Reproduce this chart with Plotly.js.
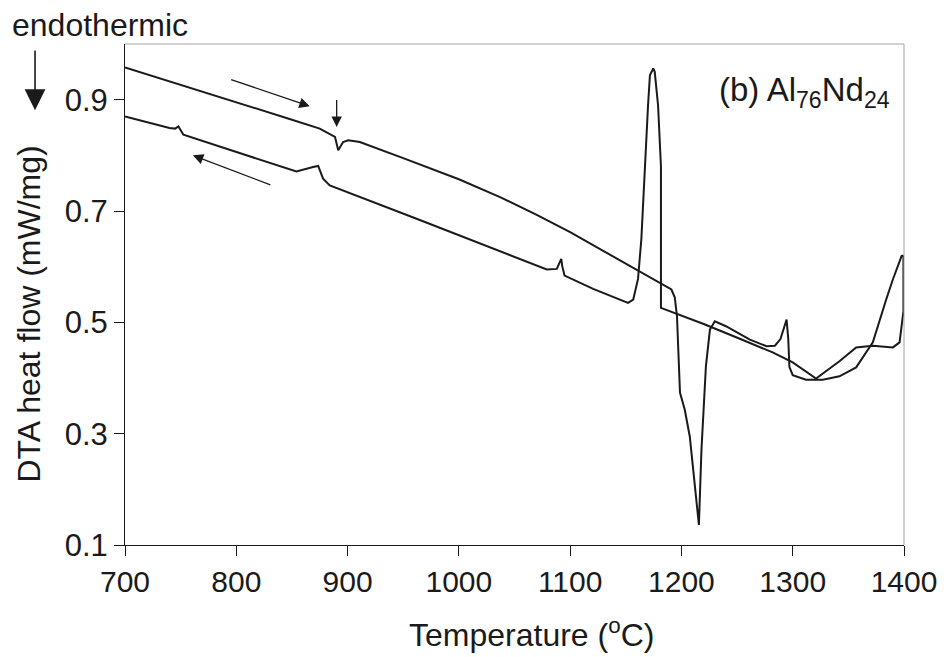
<!DOCTYPE html>
<html>
<head>
<meta charset="utf-8">
<script src="https://cdn.plot.ly/plotly-3.0.1.min.js"></script>
<style>html,body{margin:0;padding:0;background:#fff;}#chart{width:946px;height:657px;}</style>
</head>
<body>
<div id="chart"></div>
<script>
// Heating run (left to right)
const heatT = [700, 750, 800, 850, 875, 884, 888.7, 891.6, 896, 900.6, 911, 950, 1000, 1037, 1070, 1100, 1130, 1159.7, 1180.7, 1191, 1194, 1196, 1198.7, 1203, 1207.5, 1213.6, 1215.7, 1218, 1222, 1225.6, 1230, 1240, 1261.5, 1276.5, 1284, 1289, 1292, 1294.5, 1296, 1297, 1300, 1312, 1327, 1342, 1357, 1372, 1384, 1390, 1397.8, 1399.5];
const heatQ = [0.958, 0.927, 0.895, 0.864, 0.848, 0.839, 0.833, 0.809, 0.824, 0.827, 0.824, 0.795, 0.757, 0.725, 0.693, 0.662, 0.628, 0.595, 0.572, 0.559, 0.545, 0.511, 0.374, 0.343, 0.295, 0.175, 0.136, 0.271, 0.421, 0.487, 0.502, 0.493, 0.469, 0.457, 0.458, 0.47, 0.49, 0.505, 0.47, 0.42, 0.405, 0.397, 0.397, 0.403, 0.419, 0.464, 0.541, 0.577, 0.619, 0.62];
// Cooling run (right to left)
const coolT = [1399.5, 1399.5, 1396, 1390, 1372, 1357, 1342, 1321, 1300, 1282, 1253, 1220, 1181.6, 1181.6, 1179, 1176, 1174.7, 1171.7, 1170, 1167, 1164, 1161, 1156.7, 1152, 1120.7, 1095, 1093, 1092, 1090, 1088, 1079, 1037, 962, 884, 878, 873.6, 869, 854, 800, 752.5, 748, 745, 740, 700];
const coolQ = [0.62, 0.52, 0.464, 0.455, 0.458, 0.455, 0.43, 0.399, 0.428, 0.446, 0.47, 0.497, 0.526, 0.78, 0.89, 0.95, 0.956, 0.944, 0.89, 0.77, 0.65, 0.578, 0.541, 0.535, 0.56, 0.584, 0.6, 0.614, 0.605, 0.596, 0.595, 0.628, 0.686, 0.746, 0.758, 0.781, 0.779, 0.771, 0.806, 0.837, 0.852, 0.848, 0.849, 0.87];
const xTicks = [700, 800, 900, 1000, 1100, 1200, 1300, 1400];
const yTicks = [0.1, 0.3, 0.5, 0.7, 0.9];

const FONT = 'Liberation Sans, Arial, sans-serif';
const INK = '#1a1a1a';

const traces = [
  {x: heatT, y: heatQ, type: 'scatter', mode: 'lines', line: {color: INK, width: 2}, hoverinfo: 'skip', showlegend: false},
  {x: coolT, y: coolQ, type: 'scatter', mode: 'lines', line: {color: INK, width: 2}, hoverinfo: 'skip', showlegend: false}
];

const arrow = (x, y, ax, ay, extra) => Object.assign({
  x: x, y: y, ax: ax, ay: ay, xref: 'x', yref: 'y', axref: 'x', ayref: 'y',
  text: '', showarrow: true, arrowhead: 2, arrowsize: 1.6, arrowwidth: 1.3, arrowcolor: INK
}, extra || {});

const layout = {
  width: 946, height: 657,
  margin: {l: 125, r: 42, t: 44, b: 112},
  paper_bgcolor: '#fff', plot_bgcolor: '#fff',
  font: {family: FONT, color: INK, size: 30},
  xaxis: {
    range: [700, 1400], tickvals: xTicks, ticktext: xTicks.map(String),
    showgrid: false, zeroline: false, showline: true, linecolor: INK, linewidth: 1,
    ticks: 'outside', ticklen: 10, tickcolor: INK, tickwidth: 1,
    tickfont: {size: 30, family: FONT, color: INK}
  },
  yaxis: {
    range: [0.1, 1.0], tickvals: yTicks, ticktext: yTicks.map(v => v.toFixed(1)),
    showgrid: false, zeroline: false, showline: true, linecolor: INK, linewidth: 1,
    ticks: 'outside', ticklen: 10, tickcolor: INK, tickwidth: 1,
    tickfont: {size: 31, family: FONT, color: INK}
  },
  shapes: [
    {type: 'line', xref: 'paper', yref: 'paper', x0: 0, x1: 1, y0: 1, y1: 1, line: {color: '#a0a4a8', width: 1}},
    {type: 'line', xref: 'paper', yref: 'paper', x0: 1, x1: 1, y0: 0, y1: 1, line: {color: '#a0a4a8', width: 1}}
  ],
  annotations: [
    arrow(866, 0.888, 794, 0.937),
    arrow(761, 0.800, 832, 0.746),
    arrow(890.2, 0.851, 890.2, 0.902),
    {x: -0.1155, y: 0.868, ax: -0.1155, ay: 0.99, xref: 'paper', yref: 'paper', axref: 'paper', ayref: 'paper',
     text: '', showarrow: true, arrowhead: 2, arrowsize: 2.6, arrowwidth: 1.6, arrowcolor: INK},
    {x: -0.1476, y: 1.038, xref: 'paper', yref: 'paper', xanchor: 'left', yanchor: 'middle',
     text: 'endothermic', showarrow: false, font: {size: 32, family: FONT, color: INK}},
    {x: 0.985, y: 0.905, xref: 'paper', yref: 'paper', xanchor: 'right', yanchor: 'middle',
     text: '(b) Al<sub>76</sub>Nd<sub>24</sub>', showarrow: false, font: {size: 33, family: FONT, color: INK}},
    // axis titles
    {x: 0.522, y: -0.175, xref: 'paper', yref: 'paper', xanchor: 'center', yanchor: 'middle',
     text: 'Temperature (<sup>o</sup>C)', showarrow: false, font: {size: 32, family: FONT, color: INK}},
    {x: -0.124, y: 0.46, xref: 'paper', yref: 'paper', xanchor: 'center', yanchor: 'middle', textangle: -90,
     text: 'DTA heat flow (mW/mg)', showarrow: false, font: {size: 32, family: FONT, color: INK}}
  ]
};
// place the y-title by pixel: centre x ~ 29 px from left edge
layout.annotations[7].x = (29 - 125) / (946 - 125 - 42);

Plotly.newPlot('chart', traces, layout, {staticPlot: true, displayModeBar: false});
</script>
</body>
</html>
